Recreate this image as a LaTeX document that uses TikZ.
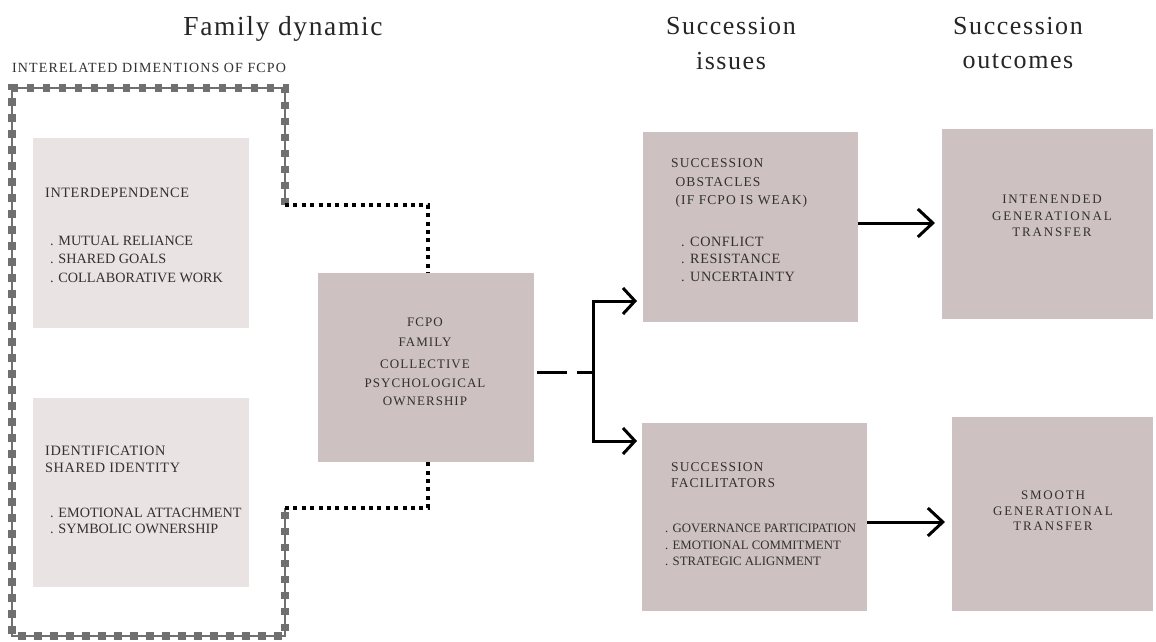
\documentclass[tikz,border=0pt]{standalone}
\usepackage{fontspec}
\setmainfont{Liberation Serif}
\newfontfamily\hdfont[LetterSpace=6]{Liberation Serif}
\newfontfamily\lsfont[LetterSpace=8]{Liberation Serif}
\newfontfamily\wsfont[LetterSpace=14]{Liberation Serif}
\newfontfamily\nsfont[LetterSpace=4]{Liberation Serif}
\usetikzlibrary{arrows.meta}
\definecolor{lightbox}{RGB}{233,228,227}
\definecolor{darkbox}{RGB}{205,193,193}
\definecolor{txt}{RGB}{50,48,48}
\definecolor{frame}{RGB}{112,112,112}
\tikzset{
  box/.style={anchor=north west, inner sep=0pt, outer sep=0pt},
  lbox/.style={box, fill=lightbox},
  dbox/.style={box, fill=darkbox},
  head/.style={font=\hdfont\fontsize{26}{31}\selectfont, text=black!85, align=center, inner sep=0pt},
  lbl/.style={text=txt, align=left, inner sep=0pt, anchor=west},
  ctr/.style={text=txt, align=center, inner sep=0pt},
  dotline/.style={line width=4pt, dash pattern=on 4pt off 4.4pt, black},
  arr/.style={line width=3pt, -{Straight Barb[length=15pt,width=28pt,line width=3pt]}},
  sarr/.style={line width=3pt, -{Straight Barb[length=12pt,width=26pt,line width=3pt]}},
}
\begin{document}
\begin{tikzpicture}[x=1pt,y=-1pt]
\useasboundingbox (0,0) rectangle (1156,642);
\fill[white] (0,0) rectangle (1156,642);

% headings
\node[head, font=\hdfont\fontsize{27.5}{31}\selectfont] (h1) at (283,29) {Family dynamic};
\node[head] (h2) at (731,26) {Succession};
\node[head] (h2b) at (731,61) {issues};
\node[head] (h3) at (1018,26) {Succession};
\node[head] (h3b) at (1018,61) {outcomes};
\node[inner sep=0pt, anchor=west, text=txt, font=\lsfont\fontsize{14}{15}\selectfont] (sub) at (12,68) {INTERELATED DIMENTIONS OF FCPO};

% boxes
\node[lbox, minimum width=216pt, minimum height=190pt] (inter) at (33,138) {};
\node[lbox, minimum width=216pt, minimum height=189pt] (ident) at (33,398) {};
\node[dbox, minimum width=216pt, minimum height=189pt] (fcpo) at (318,273) {};
\node[dbox, minimum width=215pt, minimum height=190pt] (obst) at (643,132) {};
\node[dbox, minimum width=225pt, minimum height=188pt] (facil) at (642,423) {};
\node[dbox, minimum width=211pt, minimum height=190pt] (inten) at (942,129) {};
\node[dbox, minimum width=201pt, minimum height=194pt] (smooth) at (952,417) {};

% frame around the dimensions
\coordinate (fa) at (285,205);
\coordinate (fb) at (285,508);
\draw[frame, line width=1.5pt] (fa) -- (285,88) -- (12,88) -- (12,636) -- (285,636) -- (fb);
\draw[frame, line width=7.5pt, dash pattern=on 7.5pt off 8.5pt] (fa) -- (285,88) -- (12,88) -- (12,636) -- (285,636) -- (fb);
\coordinate (ta) at (428,205);
\coordinate (tb) at (428,508);
\draw[dotline] (fa) -- (ta) -- (fcpo.north -| ta);
\draw[dotline] (fb) -- (tb) -- ([yshift=3pt]fcpo.south -| tb);

% texts in boxes
\node[lbl, font=\nsfont\fontsize{14.3}{16}\selectfont] (t1) at (45,193) {INTERDEPENDENCE};
\node[lbl, font=\fontsize{14.2}{18.5}\selectfont] (t2) at (50,259) {. MUTUAL RELIANCE\\. SHARED GOALS\\. COLLABORATIVE WORK};
\node[lbl, font=\nsfont\fontsize{14.3}{17}\selectfont] (t3) at (45,459) {IDENTIFICATION\\SHARED IDENTITY};
\node[lbl, font=\fontsize{14.2}{16.5}\selectfont] (t4) at (50,521) {. EMOTIONAL ATTACHMENT\\. SYMBOLIC OWNERSHIP};

\node[ctr, font=\lsfont\fontsize{13}{19.5}\selectfont] (t5a) at (425,332) {FCPO\\FAMILY};
\node[ctr, font=\lsfont\fontsize{13}{18.5}\selectfont] (t5b) at (425,383) {COLLECTIVE\\PSYCHOLOGICAL\\OWNERSHIP};

\node[lbl, font=\lsfont\fontsize{13.5}{18.5}\selectfont] (t6) at (671,183) {SUCCESSION\\\ OBSTACLES\\\ (IF FCPO IS WEAK)};
\node[lbl, font=\nsfont\fontsize{14.2}{17.5}\selectfont] (t7) at (681,259) {. CONFLICT\\. RESISTANCE\\. UNCERTAINTY};

\node[lbl, font=\lsfont\fontsize{13.5}{15.5}\selectfont] (t8) at (671,475) {SUCCESSION\\FACILITATORS};
\node[lbl, font=\fontsize{12.8}{16.8}\selectfont] (t9) at (665,545) {. GOVERNANCE PARTICIPATION\\. EMOTIONAL COMMITMENT\\. STRATEGIC ALIGNMENT};

\node[ctr, font=\wsfont\fontsize{13}{16.5}\selectfont] (t10) at (1052,216) {INTENENDED\\GENERATIONAL\\TRANSFER};
\node[ctr, font=\wsfont\fontsize{13}{15.5}\selectfont] (t11) at (1053,511) {SMOOTH\\GENERATIONAL\\TRANSFER};

% connectors
\coordinate (j) at (593,372);
\coordinate (e1) at (637,301);
\coordinate (e2) at (637,441);
\draw[line width=3pt, dash pattern=on 30pt off 10pt] ([xshift=3pt]fcpo.east |- j) -- (j);
\draw[line width=3pt] (j |- e1) -- (j |- e2);
\draw[sarr] ([yshift=-1.5pt]j |- e1) -- (j |- e1) -- (e1);
\draw[sarr] ([yshift=1.5pt]j |- e2) -- (j |- e2) -- (e2);
\coordinate (e3) at (935,223);
\coordinate (e4) at (945,522);
\draw[arr] (obst.east |- e3) -- (e3);
\draw[arr] (facil.east |- e4) -- (e4);
\end{tikzpicture}
\end{document}
